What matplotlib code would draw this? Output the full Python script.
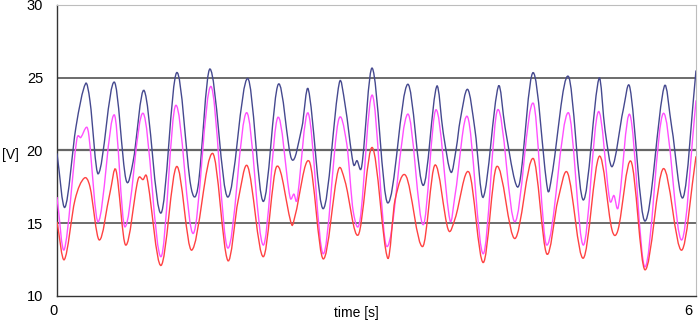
import matplotlib
matplotlib.use("Agg")
import matplotlib.pyplot as plt
import matplotlib.transforms as mtransforms
from matplotlib.path import Path
from matplotlib.patches import PathPatch

# --------------------------------------------
# Data (time in s, voltage in V)
# --------------------------------------------

blue_t = [0.000, 0.075, 0.178, 0.269, 0.310, 0.388, 0.538, 0.648, 0.714, 0.820,
          0.977, 1.124, 1.258, 1.324, 1.437, 1.603, 1.791, 1.937, 2.078, 2.204,
          2.300, 2.360, 2.500, 2.651, 2.704, 2.782, 2.817, 2.861, 2.961, 3.105,
          3.293, 3.439, 3.565, 3.627, 3.700, 3.750, 3.784, 3.856, 3.925, 4.003,
          4.144, 4.207, 4.300, 4.347, 4.472, 4.607, 4.645, 4.801, 4.942, 5.089,
          5.146, 5.214, 5.317, 5.380, 5.521, 5.702, 5.772, 5.881, 6.000]
blue_v = [19.8, 16.1, 21.6, 24.6, 23.4, 18.4, 24.7, 18.0, 19.2, 24.1,
          15.7, 25.35, 17.5, 17.5, 25.6, 16.8, 24.95, 16.5, 24.55, 19.4,
          21.6, 24.2, 16.0, 24.65, 23.2, 19.1, 19.3, 18.9, 25.65, 16.4,
          24.55, 17.6, 24.4, 21.2, 18.5, 20.2, 22.0, 24.2, 21.4, 16.8,
          24.4, 21.6, 17.9, 17.9, 25.35, 17.3, 18.2, 25.1, 16.6, 24.95,
          21.4, 18.9, 22.8, 24.3, 15.15, 24.4, 21.6, 16.8, 25.5]

magenta_t = [0.000, 0.069, 0.185, 0.225, 0.279, 0.300, 0.388, 0.538, 0.638, 0.810,
             0.977, 1.115, 1.280, 1.446, 1.603, 1.781, 1.937, 2.072, 2.188, 2.225,
             2.254, 2.360, 2.500, 2.641, 2.720, 2.782, 2.845, 2.961, 3.096, 3.293,
             3.439, 3.559, 3.690, 3.737, 3.856, 4.003, 4.138, 4.300, 4.472, 4.598,
             4.801, 4.942, 5.082, 5.190, 5.230, 5.270, 5.380, 5.521, 5.693, 5.866,
             6.000]
magenta_v = [16.8, 13.2, 20.7, 20.9, 21.6, 21.0, 15.1, 22.45, 14.75, 22.55,
             12.7, 23.1, 14.3, 24.4, 13.3, 22.6, 13.5, 22.25, 16.8, 17.0,
             16.6, 22.55, 12.9, 22.0, 20.5, 15.8, 15.2, 23.8, 13.4, 22.5,
             14.9, 22.8, 15.2, 16.9, 22.3, 12.9, 22.8, 15.1, 23.25, 13.5,
             22.6, 13.5, 22.65, 16.6, 16.9, 16.1, 22.45, 12.0, 22.55, 13.85,
             23.45]

red_t = [0.000, 0.069, 0.169, 0.256, 0.310, 0.397, 0.498, 0.554, 0.645, 0.761,
         0.808, 0.845, 0.977, 1.124, 1.265, 1.462, 1.603, 1.702, 1.791, 1.937,
         2.063, 2.204, 2.235, 2.369, 2.500, 2.641, 2.704, 2.829, 2.961, 3.105,
         3.174, 3.277, 3.434, 3.549, 3.674, 3.737, 3.869, 4.003, 4.129, 4.300,
         4.472, 4.598, 4.704, 4.795, 4.942, 5.092, 5.211, 5.268, 5.390, 5.521,
         5.693, 5.866, 6.000]
red_v = [15.1, 12.5, 16.6, 18.1, 17.5, 13.85, 17.1, 18.65, 13.5, 18.0,
         18.0, 18.15, 12.1, 18.9, 13.15, 19.8, 12.45, 16.6, 18.9, 12.7,
         18.9, 14.9, 15.5, 19.25, 12.55, 18.65, 17.9, 14.2, 20.2, 12.6,
         16.6, 18.25, 13.4, 19.0, 14.55, 15.3, 18.5, 12.3, 18.9, 13.95,
         19.45, 12.9, 16.6, 18.45, 12.6, 19.6, 14.55, 14.55, 19.25, 11.8,
         18.75, 13.15, 19.6]

y_ticks = [10, 15, 20, 25, 30]
x_ticks = [0, 6]


# smoothed line (like a spreadsheet "smoothed line" chart): cubic Bezier
# segments between the read points, slopes taken from the neighbours
def smooth_line(ax, t, v, color):
    n = len(t)
    slopes = []
    for i in range(n):
        a = max(i - 1, 0)
        b = min(i + 1, n - 1)
        slopes.append((v[b] - v[a]) / (t[b] - t[a]))
    verts = [(t[0], v[0])]
    codes = [Path.MOVETO]
    for i in range(n - 1):
        h = t[i + 1] - t[i]
        verts.append((t[i] + h / 3, v[i] + slopes[i] * h / 3))
        verts.append((t[i + 1] - h / 3, v[i + 1] - slopes[i + 1] * h / 3))
        verts.append((t[i + 1], v[i + 1]))
        codes += [Path.CURVE4] * 3
    patch = PathPatch(Path(verts, codes), fill=False, edgecolor=color,
                      lw=1.0, zorder=3, transform=ax.transData)
    ax.add_patch(patch)


# --------------------------------------------
# Plot
# --------------------------------------------

plt.rcParams["font.family"] = ["Liberation Sans", "DejaVu Sans"]

fig = plt.figure(figsize=(6.99, 3.23), dpi=100)
ax = fig.add_axes([0.0815, 0.0836, 0.9142, 0.901])

ax.axhline(15, color="#444444", lw=1.1, zorder=1)
ax.axhline(20, color="#666666", lw=1.6, zorder=1)
ax.axhline(25, color="#444444", lw=1.1, zorder=1)

smooth_line(ax, blue_t, blue_v, "#45498f")
smooth_line(ax, magenta_t, magenta_v, "#ff50ff")
smooth_line(ax, red_t, red_v, "#ff4242")

ax.set_xlim(0, 6)
ax.set_ylim(10, 30)
ax.set_yticks(y_ticks)
ax.set_xticks(x_ticks)
ax.tick_params(axis="both", length=0, labelsize=10.5)
ax.tick_params(axis="y", pad=10)
ax.tick_params(axis="x", pad=6)

# shift the two x tick labels a little left, like the original
shifts = [-3, -8]
for lab, dx in zip(ax.get_xticklabels(), shifts):
    lab.set_transform(lab.get_transform() + mtransforms.ScaledTranslation(dx / 100, 0, fig.dpi_scale_trans))

for side in ["top", "right"]:
    ax.spines[side].set_color("#bdbdbd")
for side in ["left", "bottom"]:
    ax.spines[side].set_color("#333333")
    ax.spines[side].set_linewidth(1.0)

ax.set_ylabel("[V]", rotation=0, fontsize=10)
ax.yaxis.set_label_coords(-0.073, 0.485)
ax.yaxis.label.set_verticalalignment("center")
ax.set_xlabel("time [s]", fontsize=10)
ax.xaxis.set_label_coords(0.469, -0.036)
ax.xaxis.label.set_verticalalignment("top")

fig.savefig("out.png", dpi=100)
plt.close()
